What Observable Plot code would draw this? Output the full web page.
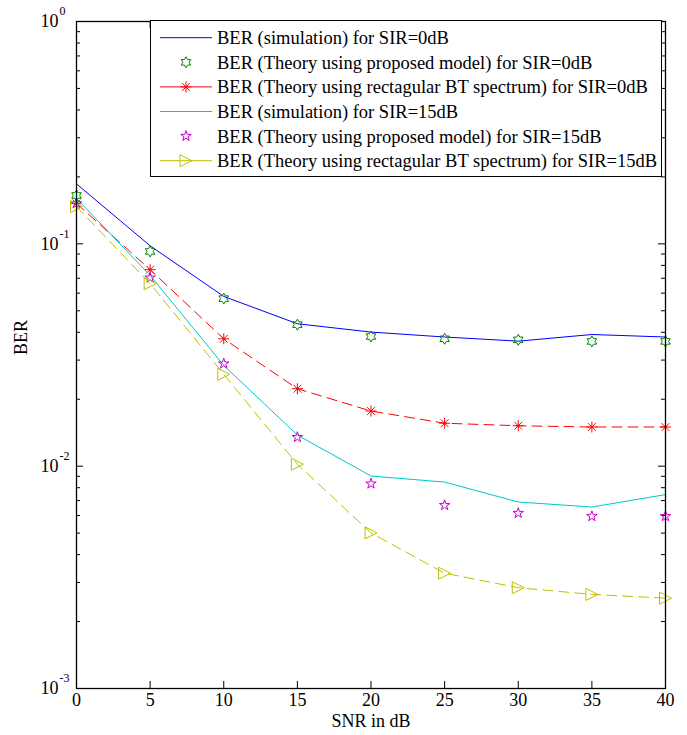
<!DOCTYPE html>
<html>
<head>
<meta charset="utf-8">
<script src="https://cdn.jsdelivr.net/npm/d3@7"></script>
<script src="https://cdn.jsdelivr.net/npm/@observablehq/plot@0.6"></script>
<style>
  html, body { margin: 0; padding: 0; background: #fff; }
  #wrap { position: relative; width: 687px; height: 735px; }
  #legend { position: absolute; left: 150px; top: 20px; width: 512px; height: 157px; box-sizing: border-box; border: 1px solid #000; background: #fff; }
</style>
</head>
<body>
<div id="wrap"><div id="chart"></div><div id="legend"></div></div>
<script>
// ---------- data ----------
const snr = [0, 5, 10, 15, 20, 25, 30, 35, 40];
const berSim0      = [0.186, 0.098, 0.058, 0.0437, 0.0401, 0.0381, 0.0365, 0.0391, 0.0381];
const berProp0     = [0.165, 0.0924, 0.0567, 0.0433, 0.0383, 0.0374, 0.0370, 0.0364, 0.0364];
const berRect0     = [0.152, 0.0765, 0.0374, 0.0223, 0.0177, 0.0156, 0.0152, 0.0150, 0.0150];
const berSim15     = [0.160, 0.0721, 0.0284, 0.0138, 0.00903, 0.00848, 0.0069, 0.00655, 0.00745];
const berProp15    = [0.152, 0.0704, 0.0289, 0.0135, 0.00834, 0.00667, 0.00615, 0.00595, 0.00595];
const berRect15    = [0.147, 0.0662, 0.0259, 0.0102, 0.00501, 0.0033, 0.00284, 0.00265, 0.00255];
const seriesNames = [
  "BER (simulation) for SIR=0dB",
  "BER (Theory using proposed model) for SIR=0dB",
  "BER (Theory using rectagular BT spectrum) for SIR=0dB",
  "BER (simulation) for SIR=15dB",
  "BER (Theory using proposed model) for SIR=15dB",
  "BER (Theory using rectagular BT spectrum) for SIR=15dB"
];
const xTickValues = [0, 5, 10, 15, 20, 25, 30, 35, 40];
const xTickLabels = ["0", "5", "10", "15", "20", "25", "30", "35", "40"];
const yTickValues = [1, 0.1, 0.01, 0.001];
const yTickExponents = ["0", "-1", "-2", "-3"];
const xLabel = "SNR in dB";
const yLabel = "BER";

// ---------- styles ----------
const seriesValues = [berSim0, berProp0, berRect0, berSim15, berProp15, berRect15];
const styles = [
  {color: "#0000ff", line: true,  dash: null,   marker: null},
  {color: "#008000", line: false, dash: null,   marker: "hexagram"},
  {color: "#ff0000", line: true,  dash: "10,6", marker: "asterisk"},
  {color: "#00c8c8", line: true,  dash: null,   marker: null},
  {color: "#c800c8", line: false, dash: null,   marker: "pentagram"},
  {color: "#bfbf00", line: true,  dash: "10,6", marker: "triangleRight"}
];

// ---------- custom marker symbols ----------
function starSymbol(points, innerRatio) {
  return {draw(ctx, size) {
    const R = Math.sqrt(size / Math.PI), ri = R * innerRatio;
    for (let i = 0; i < 2 * points; i++) {
      const a = -Math.PI / 2 + i * Math.PI / points;
      const r = i % 2 ? ri : R;
      if (i === 0) ctx.moveTo(r * Math.cos(a), r * Math.sin(a));
      else ctx.lineTo(r * Math.cos(a), r * Math.sin(a));
    }
    ctx.closePath();
  }};
}
const symbols = {
  hexagram: starSymbol(6, 1 / Math.sqrt(3)),
  pentagram: starSymbol(5, 0.382),
  asterisk: {draw(ctx, size) {
    const R = Math.sqrt(size / Math.PI);
    for (let i = 0; i < 4; i++) {
      const a = i * Math.PI / 4;
      ctx.moveTo(-R * Math.cos(a), -R * Math.sin(a));
      ctx.lineTo(R * Math.cos(a), R * Math.sin(a));
    }
  }},
  triangleRight: {draw(ctx, size) {
    const R = Math.sqrt(size / Math.PI);
    ctx.moveTo(R, 0);
    ctx.lineTo(-R, -R);
    ctx.lineTo(-R, R);
    ctx.closePath();
  }}
};
const markerR = {hexagram: 5.5, pentagram: 5.5, asterisk: 5.5, triangleRight: 6};

// ---------- build rows ----------
const rows = [];
seriesValues.forEach((vals, k) => vals.forEach((v, i) => rows.push({snr: snr[i], ber: v, k})));

const W = 687, H = 735;
const mL = 76, mR = 22, mT = 21, mB = 47;
const fw = W - mL - mR, fh = H - mT - mB;
const font = "'Liberation Serif', 'Times New Roman', serif";

// minor ticks (2..9 within each decade)
const minorTicks = [];
for (let e = -3; e < 0; e++) for (let m = 2; m <= 9; m++) minorTicks.push(m * Math.pow(10, e));

const marks = [];
styles.forEach((s, k) => {
  const d = rows.filter(r => r.k === k);
  if (s.line) marks.push(Plot.line(d, {x: "snr", y: "ber", stroke: s.color, strokeWidth: 1, strokeDasharray: s.dash || undefined}));
  if (s.marker) marks.push(Plot.dot(d, {x: "snr", y: "ber", symbol: symbols[s.marker], r: markerR[s.marker], stroke: s.color, fill: "none", strokeWidth: 1}));
});

const chart = Plot.plot({
  width: W, height: H,
  marginLeft: mL, marginRight: mR, marginTop: mT, marginBottom: mB,
  style: {fontFamily: font, background: "#fff", overflow: "visible"},
  x: {type: "linear", domain: [0, 40], axis: null},
  y: {type: "log", domain: [0.001, 1], axis: null},
  marks: [
    // major y ticks (left and right)
    Plot.tickY(yTickValues, {y: d => d, stroke: "#000", insetRight: fw - 7}),
    Plot.tickY(yTickValues, {y: d => d, stroke: "#000", insetLeft: fw - 7}),
    // minor y ticks
    Plot.tickY(minorTicks, {y: d => d, stroke: "#000", insetRight: fw - 4}),
    Plot.tickY(minorTicks, {y: d => d, stroke: "#000", insetLeft: fw - 4}),
    // x ticks (bottom and top)
    Plot.tickX(xTickValues, {x: d => d, stroke: "#000", insetTop: fh - 7}),
    Plot.tickX(xTickValues, {x: d => d, stroke: "#000", insetBottom: fh - 7}),
    ...marks,
    Plot.frame({stroke: "#000", strokeWidth: 1.3}),
    // x tick labels
    Plot.text(xTickValues, {x: d => d, text: (d, i) => xTickLabels[i], frameAnchor: "bottom", dy: 17, fontSize: 18, fill: "#000"}),
    // y tick labels: base and exponent
    Plot.text(yTickValues, {y: d => d, text: () => "10", frameAnchor: "left", dx: -18, textAnchor: "end", fontSize: 18, fill: "#000"}),
    Plot.text(yTickValues, {y: d => d, text: (d, i) => yTickExponents[i], frameAnchor: "left", dx: -17, dy: -10, textAnchor: "start", fontSize: 12, fill: "#000"}),
    // axis titles
    Plot.text([xLabel], {text: d => d, frameAnchor: "bottom", dy: 38, fontSize: 18, fill: "#000"}),
    Plot.text([yLabel], {text: d => d, frameAnchor: "left", dx: -55, rotate: -90, fontSize: 18, fill: "#000"})
  ]
});
document.getElementById("chart").appendChild(chart);

// ---------- legend ----------
const lg = d3.select("#legend").append("svg").attr("width", 510).attr("height", 155)
  .style("position", "absolute").style("left", "0px").style("top", "0px");
const rowY0 = 16.7, rowDy = 24.6;
seriesNames.forEach((name, k) => {
  const s = styles[k];
  const g = lg.append("g").attr("transform", `translate(0,${rowY0 + k * rowDy})`);
  if (s.line) g.append("line").attr("x1", 9).attr("x2", 61).attr("y1", 0).attr("y2", 0)
    .attr("stroke", s.color).attr("stroke-width", 1);
  if (s.marker) {
    const p = d3.path();
    const r = markerR[s.marker];
    symbols[s.marker].draw(p, r * r * Math.PI);
    g.append("path").attr("d", p.toString()).attr("transform", "translate(35,0)")
      .attr("fill", "none").attr("stroke", s.color).attr("stroke-width", 1);
  }
  g.append("text").attr("x", 66).attr("y", 0).attr("dy", "0.35em")
    .style("font-family", font).style("font-size", "18.5px").attr("fill", "#000").text(name);
});
</script>
</body>
</html>
